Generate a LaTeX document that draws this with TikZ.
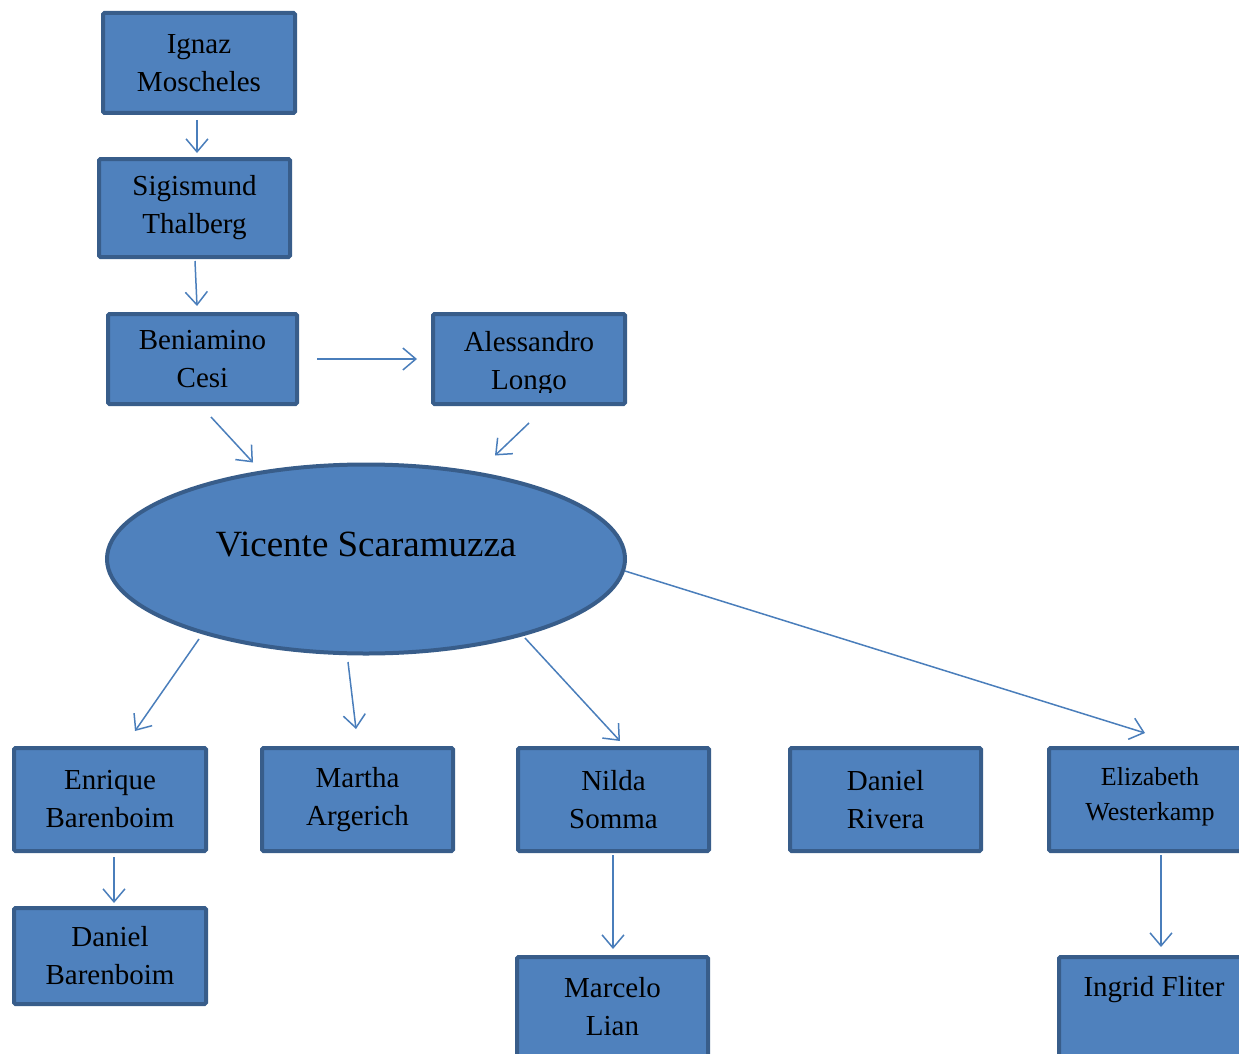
\documentclass[tikz,border=0pt]{standalone}
\usepackage{fontspec}
\setmainfont{Liberation Serif}
\usetikzlibrary{arrows.meta,calc,shapes.geometric}
\definecolor{boxfill}{HTML}{4F81BD}
\definecolor{boxline}{HTML}{385D8A}
\definecolor{arrcol}{HTML}{4A7EBB}
\tikzset{
  box/.style={draw=boxline, fill=boxfill, line width=4pt, minimum width=192pt,
    minimum height=100pt, inner sep=0pt, align=center, rounded corners=1.5pt,
    font=\fontsize{29}{38}\selectfont},
  lbl/.style={align=center, inner sep=0pt, font=\fontsize{29}{38}\selectfont},
  arr/.style={draw=arrcol, line width=1.5pt,
    -{Straight Barb[length=13pt,width=22pt]}}
}
\begin{document}
\begin{tikzpicture}[x=1pt,y=-1pt]
\useasboundingbox (0,0) rectangle (1239,1054);
\clip (0,0) rectangle (1239,1054);

% top chain
\node[box] (ign) at (199,63) {Ignaz\\Moscheles};
\node[box, minimum width=191pt, minimum height=98pt] (sig) at (194.5,208) {Sigismund\\Thalberg};
\node[box, minimum width=189pt, minimum height=90pt] (ben) at (202.5,359) {Beniamino\\Cesi};
\node[box, minimum height=90pt] (alo) at (529,359) {};
\begin{scope}
  \clip (433,314) rectangle (625,392);
  \node[lbl] (alotxt) at (529,364) {Alessandro\\Longo};
\end{scope}

% ellipse
\node[ellipse, draw=boxline, fill=boxfill, line width=4pt, minimum width=518pt,
  minimum height=189pt, inner sep=0pt] (ell) at (366,559) {};
\node[inner sep=0pt, font=\fontsize{37}{44}\selectfont] (elltxt) at (366,545) {Vicente Scaramuzza};

% bottom row
\node[box, minimum height=103pt] (enr) at (110,799.5) {Enrique\\Barenboim};
\node[box, minimum width=191pt, minimum height=103pt] (mar) at (357.5,799.5) {Martha\\Argerich};
\node[box, minimum width=191pt, minimum height=103pt] (nil) at (613.5,799.5) {Nilda\\Somma};
\node[box, minimum width=191pt, minimum height=103pt] (dri) at (885.5,799.5) {Daniel\\Rivera};
\node[box, minimum height=103pt] (eli) at (1145,799.5) {};
\node[lbl, font=\fontsize{26}{35}\selectfont] (elitxt) at (1150,797) {Elizabeth\\Westerkamp};

% last row
\node[box, minimum height=96pt] (dbar) at (110,956) {Daniel\\Barenboim};
\node[box, minimum width=191pt] (mli) at (612.5,1007) {Marcelo\\Lian};
\node[box] (ing) at (1155,1007) {};
\node[lbl] (ingtxt) at (1154,990) {Ingrid Fliter};

% connectors
\draw[arr] ($(ign.south)+(-2,5)$) -- ($(sig.north)+(2.5,-4)$);
\draw[arr] ($(sig.south)+(0.5,2)$) -- ($(ben.north)+(-5.5,-6)$);
\draw[arr] ($(ben.east)+(18,0)$) -- ($(alo.west)+(-14,0)$);
\draw[arr] ($(ben.south)+(8.5,11)$) -- ($(ell.north)+(-113,0)$);
\draw[arr] ($(alo.south)+(0,17)$) -- ($(ell.north)+(129,-7)$);
\draw[arr] ($(ell.south)+(-167,-16.5)$) -- ($(enr.north)+(25,-15)$);
\draw[arr] ($(ell.south)+(-18,6.5)$) -- ($(mar.north)+(-1.5,-17)$);
\draw[arr] ($(ell.south)+(159,-17.5)$) -- ($(nil.north)+(6.5,-5)$);
\draw[arr] ($(ell.east)+(-2,12)$) -- ($(eli.north)+(0,-13)$);
\draw[arr] ($(enr.south)+(4,4)$) -- ($(dbar.north)+(4,-3)$);
\draw[arr] ($(nil.south)+(-0.5,2)$) -- ($(mli.north)+(0.5,-6)$);
\draw[arr] ($(eli.south)+(16,2)$) -- ($(ing.north)+(6,-8)$);
\end{tikzpicture}
\end{document}
